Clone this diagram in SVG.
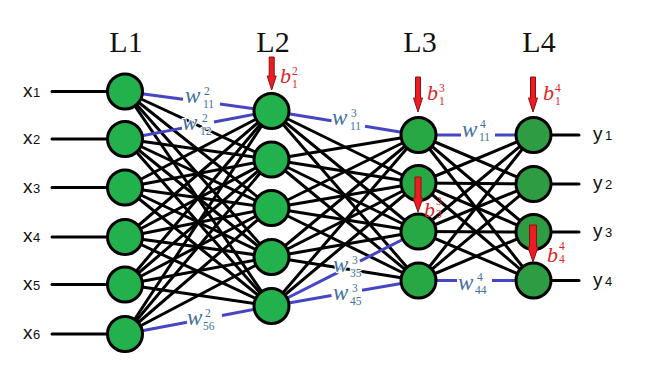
<svg xmlns="http://www.w3.org/2000/svg" width="662" height="375" viewBox="0 0 662 375">
<style>
.c{stroke:#000;stroke-width:3;fill:none;stroke-linecap:round}
.bl{stroke:#4646c4;stroke-width:3;fill:none}
.n{stroke:#000;stroke-width:3}
.g1{fill:#22b14c}
.g3{fill:#28a845}
.g4{fill:#2e9c42}
.hd{font-family:"Liberation Serif",serif;font-size:30px;fill:#111}
.io{font-family:"Liberation Sans",Arial,sans-serif;fill:#111}
.w{font-family:"Liberation Serif",serif;font-size:11.5px;fill:#41709e;stroke:#fff;stroke-width:2;paint-order:stroke}
.w .m{font-style:italic;font-size:23px}
.b{font-family:"Liberation Serif",serif;font-size:11.5px;fill:#e0242a}
.b .m{font-style:italic;font-size:22px}
.ar{fill:#ed1c24;stroke:#8a1010;stroke-width:1}
</style>
<g id="headings">
<text class="hd" x="126" y="52" text-anchor="middle">L1</text>
<text class="hd" x="273" y="52" text-anchor="middle">L2</text>
<text class="hd" x="420" y="52" text-anchor="middle">L3</text>
<text class="hd" x="539" y="52" text-anchor="middle">L4</text>
</g>
<g id="connectors">
<line class="c" x1="52" y1="91.5" x2="125" y2="91.5"/>
<line class="c" x1="52" y1="139" x2="125" y2="139"/>
<line class="c" x1="52" y1="187.5" x2="125" y2="187.5"/>
<line class="c" x1="52" y1="237" x2="125" y2="237"/>
<line class="c" x1="52" y1="284.5" x2="125" y2="284.5"/>
<line class="c" x1="52" y1="334" x2="125" y2="334"/>
<line class="c" x1="533.5" y1="135" x2="579" y2="135"/>
<line class="c" x1="533.5" y1="184" x2="579" y2="184"/>
<line class="c" x1="533.5" y1="232" x2="579" y2="232"/>
<line class="c" x1="533.5" y1="280.5" x2="579" y2="280.5"/>
<line class="c" x1="125" y1="91.5" x2="271.5" y2="159.5"/>
<line class="c" x1="125" y1="91.5" x2="271.5" y2="208"/>
<line class="c" x1="125" y1="91.5" x2="271.5" y2="257"/>
<line class="c" x1="125" y1="91.5" x2="271.5" y2="306"/>
<line class="c" x1="125" y1="139" x2="271.5" y2="159.5"/>
<line class="c" x1="125" y1="139" x2="271.5" y2="208"/>
<line class="c" x1="125" y1="139" x2="271.5" y2="257"/>
<line class="c" x1="125" y1="139" x2="271.5" y2="306"/>
<line class="c" x1="125" y1="187.5" x2="271.5" y2="111"/>
<line class="c" x1="125" y1="187.5" x2="271.5" y2="159.5"/>
<line class="c" x1="125" y1="187.5" x2="271.5" y2="208"/>
<line class="c" x1="125" y1="187.5" x2="271.5" y2="257"/>
<line class="c" x1="125" y1="187.5" x2="271.5" y2="306"/>
<line class="c" x1="125" y1="237" x2="271.5" y2="111"/>
<line class="c" x1="125" y1="237" x2="271.5" y2="159.5"/>
<line class="c" x1="125" y1="237" x2="271.5" y2="208"/>
<line class="c" x1="125" y1="237" x2="271.5" y2="257"/>
<line class="c" x1="125" y1="237" x2="271.5" y2="306"/>
<line class="c" x1="125" y1="284.5" x2="271.5" y2="111"/>
<line class="c" x1="125" y1="284.5" x2="271.5" y2="159.5"/>
<line class="c" x1="125" y1="284.5" x2="271.5" y2="208"/>
<line class="c" x1="125" y1="284.5" x2="271.5" y2="257"/>
<line class="c" x1="125" y1="284.5" x2="271.5" y2="306"/>
<line class="c" x1="125" y1="334" x2="271.5" y2="111"/>
<line class="c" x1="125" y1="334" x2="271.5" y2="159.5"/>
<line class="c" x1="125" y1="334" x2="271.5" y2="208"/>
<line class="c" x1="125" y1="334" x2="271.5" y2="257"/>
<line class="c" x1="271.5" y1="111" x2="418.5" y2="183"/>
<line class="c" x1="271.5" y1="111" x2="418.5" y2="231.5"/>
<line class="c" x1="271.5" y1="111" x2="418.5" y2="280.5"/>
<line class="c" x1="271.5" y1="159.5" x2="418.5" y2="135"/>
<line class="c" x1="271.5" y1="159.5" x2="418.5" y2="183"/>
<line class="c" x1="271.5" y1="159.5" x2="418.5" y2="231.5"/>
<line class="c" x1="271.5" y1="159.5" x2="418.5" y2="280.5"/>
<line class="c" x1="271.5" y1="208" x2="418.5" y2="135"/>
<line class="c" x1="271.5" y1="208" x2="418.5" y2="183"/>
<line class="c" x1="271.5" y1="208" x2="418.5" y2="231.5"/>
<line class="c" x1="271.5" y1="208" x2="418.5" y2="280.5"/>
<line class="c" x1="271.5" y1="257" x2="418.5" y2="135"/>
<line class="c" x1="271.5" y1="257" x2="418.5" y2="183"/>
<line class="c" x1="271.5" y1="257" x2="418.5" y2="231.5"/>
<line class="c" x1="271.5" y1="257" x2="418.5" y2="280.5"/>
<line class="c" x1="271.5" y1="306" x2="418.5" y2="135"/>
<line class="c" x1="271.5" y1="306" x2="418.5" y2="183"/>
<line class="c" x1="418.5" y1="135" x2="533.5" y2="184"/>
<line class="c" x1="418.5" y1="135" x2="533.5" y2="232"/>
<line class="c" x1="418.5" y1="135" x2="533.5" y2="280.5"/>
<line class="c" x1="418.5" y1="183" x2="533.5" y2="135"/>
<line class="c" x1="418.5" y1="183" x2="533.5" y2="184"/>
<line class="c" x1="418.5" y1="183" x2="533.5" y2="232"/>
<line class="c" x1="418.5" y1="183" x2="533.5" y2="280.5"/>
<line class="c" x1="418.5" y1="231.5" x2="533.5" y2="135"/>
<line class="c" x1="418.5" y1="231.5" x2="533.5" y2="184"/>
<line class="c" x1="418.5" y1="231.5" x2="533.5" y2="232"/>
<line class="c" x1="418.5" y1="231.5" x2="533.5" y2="280.5"/>
<line class="c" x1="418.5" y1="280.5" x2="533.5" y2="135"/>
<line class="c" x1="418.5" y1="280.5" x2="533.5" y2="184"/>
<line class="c" x1="418.5" y1="280.5" x2="533.5" y2="232"/>
<path class="bl" d="M125 91.5 L183 99.2 M220 104.1 L271.5 111"/>
<path class="bl" d="M125 139 L182 128.1 M214 122 L271.5 111"/>
<path class="bl" d="M125 334 L187 322.2 M222 315.5 L271.5 306"/>
<path class="bl" d="M271.5 111 L331.5 120.8 M365 126.3 L418.5 135"/>
<path class="bl" d="M271.5 306 L338 272.3 M360 261.1 L418.5 231.5"/>
<path class="bl" d="M271.5 306 L331.5 295.6 M362 290.3 L418.5 280.5"/>
<path class="bl" d="M418.5 135 L461 135 M495 135 L533.5 135"/>
<path class="bl" d="M418.5 280.5 L457 280.5 M492 280.5 L533.5 280.5"/>
</g>
<g id="L1">
<circle id="n1_1" class="n g1" cx="125" cy="91.5" r="17.5"/>
<circle id="n1_2" class="n g1" cx="125" cy="139" r="17.5"/>
<circle id="n1_3" class="n g1" cx="125" cy="187.5" r="17.5"/>
<circle id="n1_4" class="n g1" cx="125" cy="237" r="17.5"/>
<circle id="n1_5" class="n g1" cx="125" cy="284.5" r="17.5"/>
<circle id="n1_6" class="n g1" cx="125" cy="334" r="17.5"/>
</g>
<g id="L2">
<circle id="n2_1" class="n g1" cx="271.5" cy="111" r="17.5"/>
<circle id="n2_2" class="n g1" cx="271.5" cy="159.5" r="17.5"/>
<circle id="n2_3" class="n g1" cx="271.5" cy="208" r="17.5"/>
<circle id="n2_4" class="n g1" cx="271.5" cy="257" r="17.5"/>
<circle id="n2_5" class="n g1" cx="271.5" cy="306" r="17.5"/>
</g>
<g id="L3">
<circle id="n3_1" class="n g3" cx="418.5" cy="135" r="17.5"/>
<circle id="n3_2" class="n g3" cx="418.5" cy="183" r="17.5"/>
<circle id="n3_3" class="n g3" cx="418.5" cy="231.5" r="17.5"/>
<circle id="n3_4" class="n g3" cx="418.5" cy="280.5" r="17.5"/>
</g>
<g id="L4">
<circle id="n4_1" class="n g4" cx="533.5" cy="135" r="17.5"/>
<circle id="n4_2" class="n g4" cx="533.5" cy="184" r="17.5"/>
<circle id="n4_3" class="n g4" cx="533.5" cy="232" r="17.5"/>
<circle id="n4_4" class="n g4" cx="533.5" cy="280.5" r="17.5"/>
</g>
<g id="inputs" class="io">
<text x="23" y="97" font-size="19">x<tspan x="33" font-size="13">1</tspan></text>
<text x="23" y="144" font-size="19">x<tspan x="33" font-size="13">2</tspan></text>
<text x="23" y="192.5" font-size="19">x<tspan x="33" font-size="13">3</tspan></text>
<text x="23" y="242" font-size="19">x<tspan x="33" font-size="13">4</tspan></text>
<text x="23" y="289.5" font-size="19">x<tspan x="33" font-size="13">5</tspan></text>
<text x="23" y="339" font-size="19">x<tspan x="33" font-size="13">6</tspan></text>
</g>
<g id="outputs" class="io">
<text x="593" y="140" font-size="19">y<tspan x="605" font-size="13">1</tspan></text>
<text x="593" y="189" font-size="19">y<tspan x="605" font-size="13">2</tspan></text>
<text x="593" y="237" font-size="19">y<tspan x="605" font-size="13">3</tspan></text>
<text x="593" y="285.5" font-size="19">y<tspan x="605" font-size="13">4</tspan></text>
</g>
<g id="weights">
<text class="w"><tspan class="m" x="185" y="103">w</tspan><tspan x="204" y="95">2</tspan><tspan x="203" y="108">11</tspan></text>
<text class="w"><tspan class="m" x="182" y="130">w</tspan><tspan x="202" y="122">2</tspan><tspan x="200" y="135">12</tspan></text>
<text class="w"><tspan class="m" x="187" y="325">w</tspan><tspan x="205" y="317">2</tspan><tspan x="203" y="330">56</tspan></text>
<text class="w"><tspan class="m" x="332" y="125">w</tspan><tspan x="351" y="117">3</tspan><tspan x="350" y="130">11</tspan></text>
<text class="w"><tspan class="m" x="333" y="272">w</tspan><tspan x="352" y="264">3</tspan><tspan x="350" y="277">35</tspan></text>
<text class="w"><tspan class="m" x="333" y="300">w</tspan><tspan x="352" y="292">3</tspan><tspan x="350" y="305">45</tspan></text>
<text class="w"><tspan class="m" x="462" y="137">w</tspan><tspan x="480" y="128">4</tspan><tspan x="479" y="141">11</tspan></text>
<text class="w"><tspan class="m" x="458" y="290">w</tspan><tspan x="477" y="281">4</tspan><tspan x="475" y="294">44</tspan></text>
</g>
<g id="biases">
<polygon class="ar" points="269.2,57 274.2,57 274.2,76 276.2,76 271.7,90 267.2,76 269.2,76"/>
<polygon class="ar" points="415.5,77 420.5,77 420.5,98 422.5,98 418,112 413.5,98 415.5,98"/>
<polygon class="ar" points="530.5,77 535.5,77 535.5,98 537.5,98 533,112 528.5,98 530.5,98"/>
<polygon class="ar" points="415,177 421,177 421,198 423,198 418,212 413,198 415,198"/>
<polygon class="ar" points="529.5,225 536.5,225 536.5,247 538,247 533,262 528,247 529.5,247"/>
<text class="b"><tspan class="m" x="280" y="83">b</tspan><tspan x="292" y="75">2</tspan><tspan x="292" y="88">1</tspan></text>
<text class="b"><tspan class="m" x="427" y="100">b</tspan><tspan x="439" y="92">3</tspan><tspan x="439" y="105">1</tspan></text>
<text class="b"><tspan class="m" x="543" y="100">b</tspan><tspan x="555" y="92">4</tspan><tspan x="555" y="105">1</tspan></text>
<text class="b"><tspan class="m" x="424" y="217">b</tspan><tspan x="436" y="205">3</tspan><tspan x="436" y="218">3</tspan></text>
<text class="b"><tspan class="m" x="547" y="262">b</tspan><tspan x="559" y="250">4</tspan><tspan x="559" y="263">4</tspan></text>
</g>
</svg>
